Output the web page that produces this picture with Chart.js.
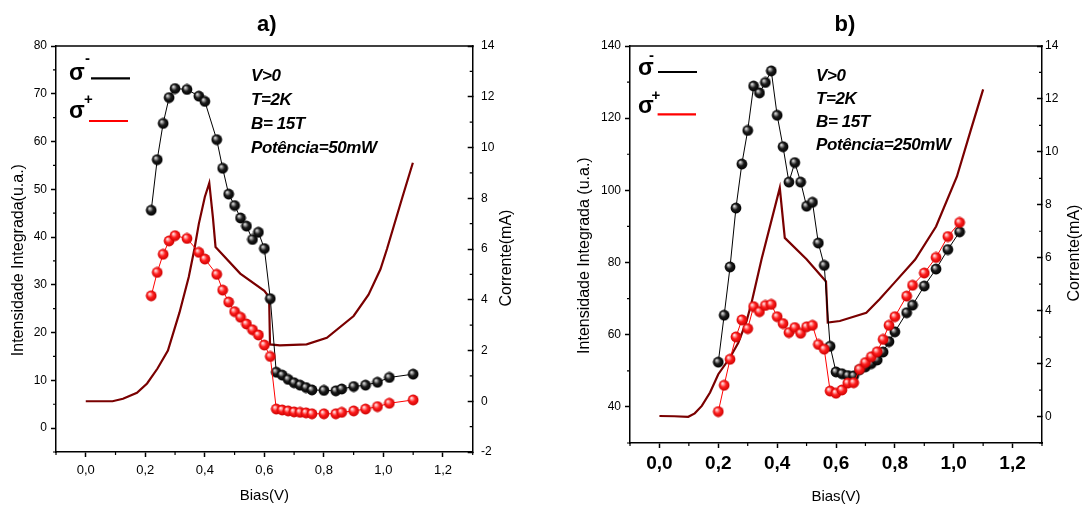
<!DOCTYPE html>
<html><head><meta charset="utf-8">
<script src="https://cdn.jsdelivr.net/npm/chart.js@4.4.1/dist/chart.umd.min.js"></script>
<style>
html,body{margin:0;padding:0;background:#fff;}
#wrap{position:relative;width:1085px;height:507px;overflow:hidden;background:#fff;}
canvas{position:absolute;top:0;}
#ca{left:0;} #cb{left:542px;}
</style></head><body>
<div id="wrap"><canvas id="ca" width="542" height="507"></canvas><canvas id="cb" width="543" height="507"></canvas></div>
<script>
// ---------- Panel a) data ----------
const biasA = [0.22,0.24,0.26,0.28,0.30,0.34,0.38,0.40,0.44,0.46,0.48,0.50,0.52,0.54,0.56,0.58,0.60,0.62,0.64,0.66,0.68,0.70,0.72,0.74,0.76,0.80,0.84,0.86,0.90,0.94,0.98,1.02,1.10];
const sigmaMinusA = [45.6,56.2,63.8,69.2,71.1,70.9,69.5,68.4,60.4,54.4,49.0,46.6,44.0,42.3,39.5,41.0,37.6,27.1,11.7,11.1,10.2,9.5,9.0,8.5,8.0,7.9,7.8,8.2,8.7,9.0,9.6,10.6,11.3];
const sigmaPlusA = [27.7,32.6,36.4,39.2,40.3,39.7,36.8,35.4,32.2,28.9,26.4,24.4,23.2,21.8,20.6,19.5,17.4,15.0,4.0,3.8,3.6,3.4,3.3,3.2,3.0,3.0,3.0,3.3,3.6,4.0,4.5,5.2,5.9];
const currentBiasA = [0,0.09,0.125,0.172,0.206,0.241,0.276,0.315,0.346,0.365,0.38,0.40,0.415,0.427,0.436,0.45,0.519,0.60,0.616,0.619,0.652,0.742,0.81,0.90,0.95,0.99,1.012,1.064,1.099];
const currentA = [0,0,0.1,0.33,0.7,1.29,2.0,3.5,4.9,6.0,7.0,8.05,8.6,7.27,6.08,5.9,5.03,4.35,4.1,2.24,2.2,2.24,2.5,3.36,4.2,5.2,6.0,8.05,9.4];

// ---------- Panel b) data ----------
const biasB = [0.20,0.22,0.24,0.26,0.28,0.30,0.32,0.34,0.36,0.38,0.40,0.42,0.44,0.46,0.48,0.50,0.52,0.54,0.56,0.58,0.60,0.62,0.64,0.66,0.68,0.70,0.72,0.74,0.76,0.78,0.80,0.84,0.86,0.90,0.94,0.98,1.02];
const sigmaMinusB = [52.4,65.4,78.8,95.1,107.3,116.6,128.9,127.0,129.9,133.1,120.8,112.1,102.3,107.7,102.3,95.6,96.7,85.4,79.2,56.8,49.7,49.2,48.7,48.6,50.3,51.1,52.0,53.0,55.2,58.1,60.8,66.1,68.2,73.5,78.2,83.6,88.5];
const sigmaPlusB = [38.7,46.0,53.2,59.4,64.1,61.7,67.8,66.4,68.1,68.4,65.0,63.1,60.6,62.0,60.4,62.2,62.6,57.3,56.0,44.4,43.8,44.7,46.6,46.7,50.4,52.3,53.9,55.3,58.7,62.6,65.0,70.7,73.7,77.1,81.4,87.2,91.1];
const currentBiasB = [0,0.05,0.098,0.12,0.144,0.172,0.20,0.24,0.268,0.296,0.313,0.347,0.409,0.426,0.50,0.566,0.572,0.613,0.703,0.748,0.798,0.869,0.94,1.011,1.058,1.10];
const currentB = [0.02,0.01,-0.01,0.12,0.40,0.91,1.6,2.23,2.79,3.6,4.3,5.94,8.64,6.75,5.94,5.1,3.55,3.61,3.92,4.43,5.05,5.93,7.18,9.07,10.82,12.36];

// ---------- ticks ----------
const xTicks = [0,0.2,0.4,0.6,0.8,1.0,1.2];
const xTickLabels = ['0,0','0,2','0,4','0,6','0,8','1,0','1,2'];
const yTicksA = [0,10,20,30,40,50,60,70,80];
const y2TicksA = [-2,0,2,4,6,8,10,12,14];
const yTicksB = [40,60,80,100,120,140];
const y2TicksB = [0,2,4,6,8,10,12,14];

const infoA = ['V>0','T=2K','B= 15T','Potência=50mW'];
const infoB = ['V>0','T=2K','B= 15T','Potência=250mW'];

const FONT = "'Liberation Sans', Arial, sans-serif";
Chart.defaults.font.family = FONT;
Chart.defaults.color = '#000';

function ball(c1,c2,c3){
  const s=12, cv=document.createElement('canvas'); cv.width=s; cv.height=s;
  const g=cv.getContext('2d'); const r=5.4;
  const grd=g.createRadialGradient(4.2,4,0.4,6,6,r);
  grd.addColorStop(0,c1); grd.addColorStop(0.5,c2); grd.addColorStop(1,c3);
  g.fillStyle=grd; g.beginPath(); g.arc(6,6,r,0,Math.PI*2); g.fill();
  return cv;
}
const blackBall = ball('#e0e0e0','#1c1c1c','#000');
const redBall = ball('#ffe6e6','#ff1e1e','#cc0000');

const pts = (xs, ys) => xs.map((x,i)=>({x:x, y:ys[i]}));

function minorVals(major, min, max){
  const step = major[1]-major[0], out=[];
  for (let i=0;i<major.length-1;i++) out.push((major[i]+major[i+1])/2);
  const lo = major[0]-step/2, hi = major[major.length-1]+step/2;
  if (lo >= min-1e-9) out.push(lo);
  if (hi <= max+1e-9) out.push(hi);
  return out;
}

const decor = {
  id:'decor',
  afterDraw(chart, args, o){
    const ctx=chart.ctx, a=chart.chartArea;
    ctx.save();
    ctx.strokeStyle='#000'; ctx.lineWidth=1.5;
    ctx.beginPath(); ctx.moveTo(a.left-0.75, a.top); ctx.lineTo(a.right+0.75, a.top); ctx.stroke();
    // minor ticks
    ctx.lineWidth=1.2;
    const sx=chart.scales.x, sy=chart.scales.y, sy2=chart.scales.y2;
    ctx.beginPath();
    for (const v of minorVals(xTicks, sx.min, sx.max)) { const p=sx.getPixelForValue(v); ctx.moveTo(p,a.bottom); ctx.lineTo(p,a.bottom+3); }
    for (const v of minorVals(o.yMajor, sy.min, sy.max)) { const p=sy.getPixelForValue(v); ctx.moveTo(a.left,p); ctx.lineTo(a.left-3,p); }
    for (const v of minorVals(o.y2Major, sy2.min, sy2.max)) { const p=sy2.getPixelForValue(v); ctx.moveTo(a.right,p); ctx.lineTo(a.right-3,p); }
    ctx.stroke();
    // title
    ctx.fillStyle='#000'; ctx.textAlign='center'; ctx.textBaseline='middle';
    ctx.font='bold 22px '+FONT; ctx.fillText(o.title, o.titleX, 25);
    // right axis title (reads bottom to top)
    ctx.save();
    ctx.translate(o.y2TitleX, o.y2TitleY); ctx.rotate(-Math.PI/2);
    ctx.font='16px '+FONT; ctx.fillText(o.y2Title, 0, 0);
    ctx.restore();
    // legend
    const L=o.leg;
    ctx.textAlign='left'; ctx.textBaseline='alphabetic';
    ctx.font='bold 23px '+FONT;
    ctx.fillText('σ', L.sx, L.b1); ctx.fillText('σ', L.sx, L.b2);
    ctx.font='bold 15px '+FONT;
    ctx.fillText('-', L.m[0], L.m[1]); ctx.fillText('+', L.p[0], L.p[1]);
    ctx.lineWidth=2.2;
    ctx.strokeStyle='#000'; ctx.beginPath(); ctx.moveTo(L.l1[0],L.l1[2]); ctx.lineTo(L.l1[1],L.l1[2]); ctx.stroke();
    ctx.strokeStyle='#ff0000'; ctx.beginPath(); ctx.moveTo(L.l2[0],L.l2[2]); ctx.lineTo(L.l2[1],L.l2[2]); ctx.stroke();
    // annotations
    ctx.font='italic bold 17px '+FONT; ctx.textBaseline='middle';
    try { ctx.letterSpacing='-0.4px'; } catch(e){}
    o.info.forEach((t,i)=>ctx.fillText(t, o.infoX, o.infoY[i]));
    ctx.restore();
  }
};

function makeChart(el, cfg){
  const fixedTicks = arr => (scale)=>{ scale.ticks = arr.map(v=>({value:v})); };
  return new Chart(el, {
    type:'line',
    data:{ datasets:[
      { data: pts(cfg.bias, cfg.plus), yAxisID:'y', borderColor:'#ff0000', borderWidth:1, pointStyle:redBall, pointRadius:5.5, order:1 },
      { data: pts(cfg.bias, cfg.minus), yAxisID:'y', borderColor:'#000', borderWidth:1, pointStyle:blackBall, pointRadius:5.5, order:2 },
      { data: pts(cfg.cBias, cfg.cur), yAxisID:'y2', borderColor:'#7a0000', borderWidth:2.2, pointRadius:0, order:3 }
    ]},
    options:{
      responsive:false, animation:false, devicePixelRatio:1,
      layout:{ padding:{ top:46, left:0, right:0, bottom:0 } },
      plugins:{ legend:{display:false}, tooltip:{enabled:false}, decor: cfg.decor },
      elements:{ line:{ tension:0 } },
      scales:{
        x:{ type:'linear', min:-0.1, max:1.3,
          afterBuildTicks: fixedTicks(xTicks),
          afterFit: s=>{ s.height = cfg.xH; },
          border:{ color:'#000', width:1.5 },
          grid:{ drawOnChartArea:false, color:'#000', tickLength:5, tickWidth:1.5 },
          ticks:{ autoSkip:false, maxRotation:0, padding:cfg.xPad, font:cfg.xFont, color:'#000', callback:(v,i)=>xTickLabels[i] },
          title:{ display:true, text:'Bias(V)', font:{size:15}, color:'#000', padding:{top:0,bottom:cfg.xTitlePad} }
        },
        y:{ type:'linear', position:'left', min:cfg.yMin, max:cfg.yMax,
          afterBuildTicks: fixedTicks(cfg.yTicks),
          afterFit: s=>{ s.width = cfg.yW; },
          border:{ color:'#000', width:1.5 },
          grid:{ drawOnChartArea:false, color:'#000', tickLength:5, tickWidth:1.5 },
          ticks:{ autoSkip:false, padding:4, font:{size:12}, color:'#000', callback:v=>String(v) },
          title:{ display:true, text:cfg.yTitle, font:{size:16}, color:'#000', padding:{top:cfg.yTitlePad,bottom:0} }
        },
        y2:{ type:'linear', position:'right', min:cfg.y2Min, max:14,
          afterBuildTicks: fixedTicks(cfg.y2Ticks),
          afterFit: s=>{ s.width = cfg.y2W; },
          border:{ color:'#000', width:1.5 },
          grid:{ drawOnChartArea:false, color:'#000', tickLength:-5, tickWidth:1.5 },
          ticks:{ autoSkip:false, padding:cfg.y2Pad, font:{size:12}, color:'#000', callback:v=>String(v) },
          title:{ display:false }
        }
      }
    },
    plugins:[decor]
  });
}

makeChart(document.getElementById('ca'), {
  bias:biasA, plus:sigmaPlusA, minus:sigmaMinusA, cBias:currentBiasA, cur:currentA,
  xH:55, xPad:6, xFont:{size:13}, xTitlePad:2,
  yMin:-5, yMax:80, yTicks:yTicksA, yW:56, yTitle:'Intensidade Integrada(u.a.)     ', yTitlePad:9.4,
  y2Min:-2, y2Ticks:y2TicksA, y2W:69.3, y2Pad:13.3,
  decor:{ yMajor:yTicksA, y2Major:y2TicksA, title:'a)', titleX:266.7,
    y2Title:'Corrente(mA)', y2TitleX:506.4, y2TitleY:258,
    leg:{ sx:69, b1:80, b2:118, m:[85,63], p:[84,104], l1:[91,130,78.3], l2:[89,128,121] },
    info:infoA, infoX:251, infoY:[76.7,100,124.3,148.3] }
});

makeChart(document.getElementById('cb'), {
  bias:biasB, plus:sigmaPlusB, minus:sigmaMinusB, cBias:currentBiasB, cur:currentB,
  xH:64, xPad:4, xFont:{size:19, weight:'bold'}, xTitlePad:1.5,
  yMin:30, yMax:140, yTicks:yTicksB, yW:88, yTitle:'Intensidade Integrada (u.a.)     ', yTitlePad:32.7,
  y2Min:-1, y2Ticks:y2TicksB, y2W:43, y2Pad:8,
  decor:{ yMajor:yTicksB, y2Major:y2TicksB, title:'b)', titleX:303,
    y2Title:'Corrente(mA)', y2TitleX:532.4, y2TitleY:253,
    leg:{ sx:96, b1:75, b2:113, m:[107,60], p:[109.5,99.5], l1:[116,155,72], l2:[115.6,154,114.3] },
    info:infoB, infoX:274, infoY:[76,99,122.7,145.7] }
});
</script>
</body></html>
